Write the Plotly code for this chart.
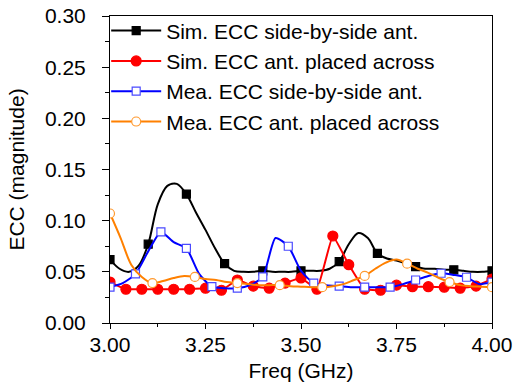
import numpy as np
import plotly.graph_objects as go

# ---------------- data ----------------
# Simulated ECC, antennas side by side (0.025 GHz grid, marker every 0.1 GHz)
sim_sbs_freq = np.round(np.linspace(3.0, 4.0, 41), 4)
sim_sbs_ecc = [0.062, 0.053, 0.050, 0.056, 0.077, 0.116, 0.134, 0.136, 0.126, 0.108,
               0.091, 0.073, 0.058, 0.051, 0.050, 0.050, 0.051, 0.050, 0.050, 0.050,
               0.051, 0.051, 0.051, 0.053, 0.060, 0.077, 0.088, 0.083, 0.068, 0.063,
               0.061, 0.058, 0.055, 0.053, 0.053, 0.052, 0.052, 0.051, 0.050, 0.050,
               0.051]
sim_sbs_step = 4

# Simulated ECC, antennas placed across (1/24 GHz grid, every point marked)
sim_acr_freq = np.round(np.linspace(3.0, 4.0, 25), 4)
sim_acr_ecc = [0.040, 0.033, 0.033, 0.033, 0.033, 0.033, 0.034, 0.032, 0.042, 0.036,
               0.034, 0.039, 0.044, 0.033, 0.085, 0.057, 0.033, 0.032, 0.037, 0.0355,
               0.0355, 0.035, 0.034, 0.036, 0.043]
sim_acr_step = 1

# Measured ECC, antennas side by side (1/30 GHz grid, marker every 1/15 GHz)
mea_sbs_freq = np.round(np.linspace(3.0, 4.0, 31), 4)
mea_sbs_ecc = [0.035, 0.039, 0.048, 0.070, 0.089, 0.079, 0.073, 0.048, 0.0355, 0.034,
               0.034, 0.037, 0.045, 0.083, 0.075, 0.051, 0.039, 0.037, 0.036, 0.035,
               0.035, 0.035, 0.035, 0.038, 0.042, 0.046, 0.0486, 0.047, 0.0447, 0.038,
               0.040]
mea_sbs_step = 2

# Measured ECC, antennas placed across (1/36 GHz grid, marker every 1/9 GHz)
mea_acr_freq = np.round(np.linspace(3.0, 4.0, 37), 4)
mea_acr_ecc = [0.107, 0.083, 0.057, 0.045, 0.039, 0.041, 0.044, 0.046, 0.045, 0.043,
               0.042, 0.040, 0.039, 0.038, 0.037, 0.037, 0.037, 0.036, 0.0355, 0.035,
               0.035, 0.036, 0.038, 0.042, 0.046, 0.053, 0.059, 0.062, 0.058, 0.053,
               0.049, 0.044, 0.040, 0.037, 0.036, 0.0355, 0.035]
mea_acr_step = 4

x_ticks = [3.00, 3.25, 3.50, 3.75, 4.00]
y_ticks = [0.00, 0.05, 0.10, 0.15, 0.20, 0.25, 0.30]

FONT = "Arial, Liberation Sans, sans-serif"

series = [
    dict(name="Sim. ECC side-by-side ant.", x=sim_sbs_freq, y=sim_sbs_ecc, step=sim_sbs_step,
         color="#000000", symbol="square", size=8, fill="#000000", edge="#000000", smooth=0.9),
    dict(name="Sim. ECC ant. placed across", x=sim_acr_freq, y=sim_acr_ecc, step=sim_acr_step,
         color="#ff0000", symbol="circle", size=10, fill="#ff0000", edge="#ff0000", smooth=0.3),
    dict(name="Mea. ECC side-by-side ant.", x=mea_sbs_freq, y=mea_sbs_ecc, step=mea_sbs_step,
         color="#0000ff", symbol="square", size=8, fill="#ffffff", edge="#4a4aff", smooth=0.6),
    dict(name="Mea. ECC ant. placed across", x=mea_acr_freq, y=mea_acr_ecc, step=mea_acr_step,
         color="#ff8000", symbol="circle", size=9, fill="#ffffff", edge="#ff9a30", smooth=0.9),
]

fig = go.Figure()
for i, s in enumerate(series):
    group = f"g{i}"
    marker = dict(symbol=s["symbol"], size=s["size"], color=s["fill"],
                  line=dict(color=s["edge"], width=1.2))
    # smooth curve through all samples
    fig.add_trace(go.Scatter(x=s["x"], y=s["y"], mode="lines",
                             line=dict(color=s["color"], width=2, shape="spline",
                                       smoothing=s["smooth"]),
                             legendgroup=group, showlegend=False, hoverinfo="skip"))
    # markers on a subset of the samples
    fig.add_trace(go.Scatter(x=list(s["x"][::s["step"]]), y=s["y"][::s["step"]],
                             mode="markers", marker=marker, cliponaxis=True,
                             legendgroup=group, showlegend=False))
    # legend entry (line + marker)
    fig.add_trace(go.Scatter(x=[None], y=[None], mode="lines+markers", name=s["name"],
                             line=dict(color=s["color"], width=2), marker=marker,
                             legendgroup=group, showlegend=True, legendrank=i + 1))

axis_common = dict(
    showline=True, linecolor="#000000", linewidth=1, mirror=True,
    showgrid=False, zeroline=False, ticks="outside", tickcolor="#000000",
    tickfont=dict(family=FONT, size=21, color="#000000"),
)

fig.update_xaxes(
    range=[3.0, 4.0], tickvals=x_ticks, ticktext=[f"{v:.2f}" for v in x_ticks],
    ticklen=5, tickwidth=1, ticklabelstandoff=-2,
    minor=dict(ticks="outside", ticklen=3, tickcolor="#000000", dtick=0.125, tick0=3.0),
    title=dict(text="Freq (GHz)", font=dict(family=FONT, size=21, color="#000000"), standoff=8),
    **axis_common,
)
fig.update_yaxes(
    range=[0.0, 0.30], tickvals=y_ticks, ticktext=[f"{v:.2f}" for v in y_ticks],
    ticklen=7, tickwidth=1, ticklabelstandoff=12,
    minor=dict(ticks="outside", ticklen=4, tickcolor="#000000", dtick=0.025, tick0=0.0),
    title=dict(text="ECC (magnitude)", font=dict(family=FONT, size=21, color="#000000"), standoff=14),
    **axis_common,
)

fig.update_layout(
    width=522, height=390,
    margin=dict(l=110, r=30, t=16, b=67, autoexpand=False),
    paper_bgcolor="#ffffff", plot_bgcolor="#ffffff",
    font=dict(family=FONT, size=21, color="#000000"),
    showlegend=True,
    legend=dict(x=-0.01, y=1.018, xanchor="left", yanchor="top",
                bgcolor="rgba(0,0,0,0)", borderwidth=0,
                font=dict(family=FONT, size=21, color="#000000"),
                itemwidth=50, tracegroupgap=1, traceorder="normal"),
)

fig.write_html("out.html")
